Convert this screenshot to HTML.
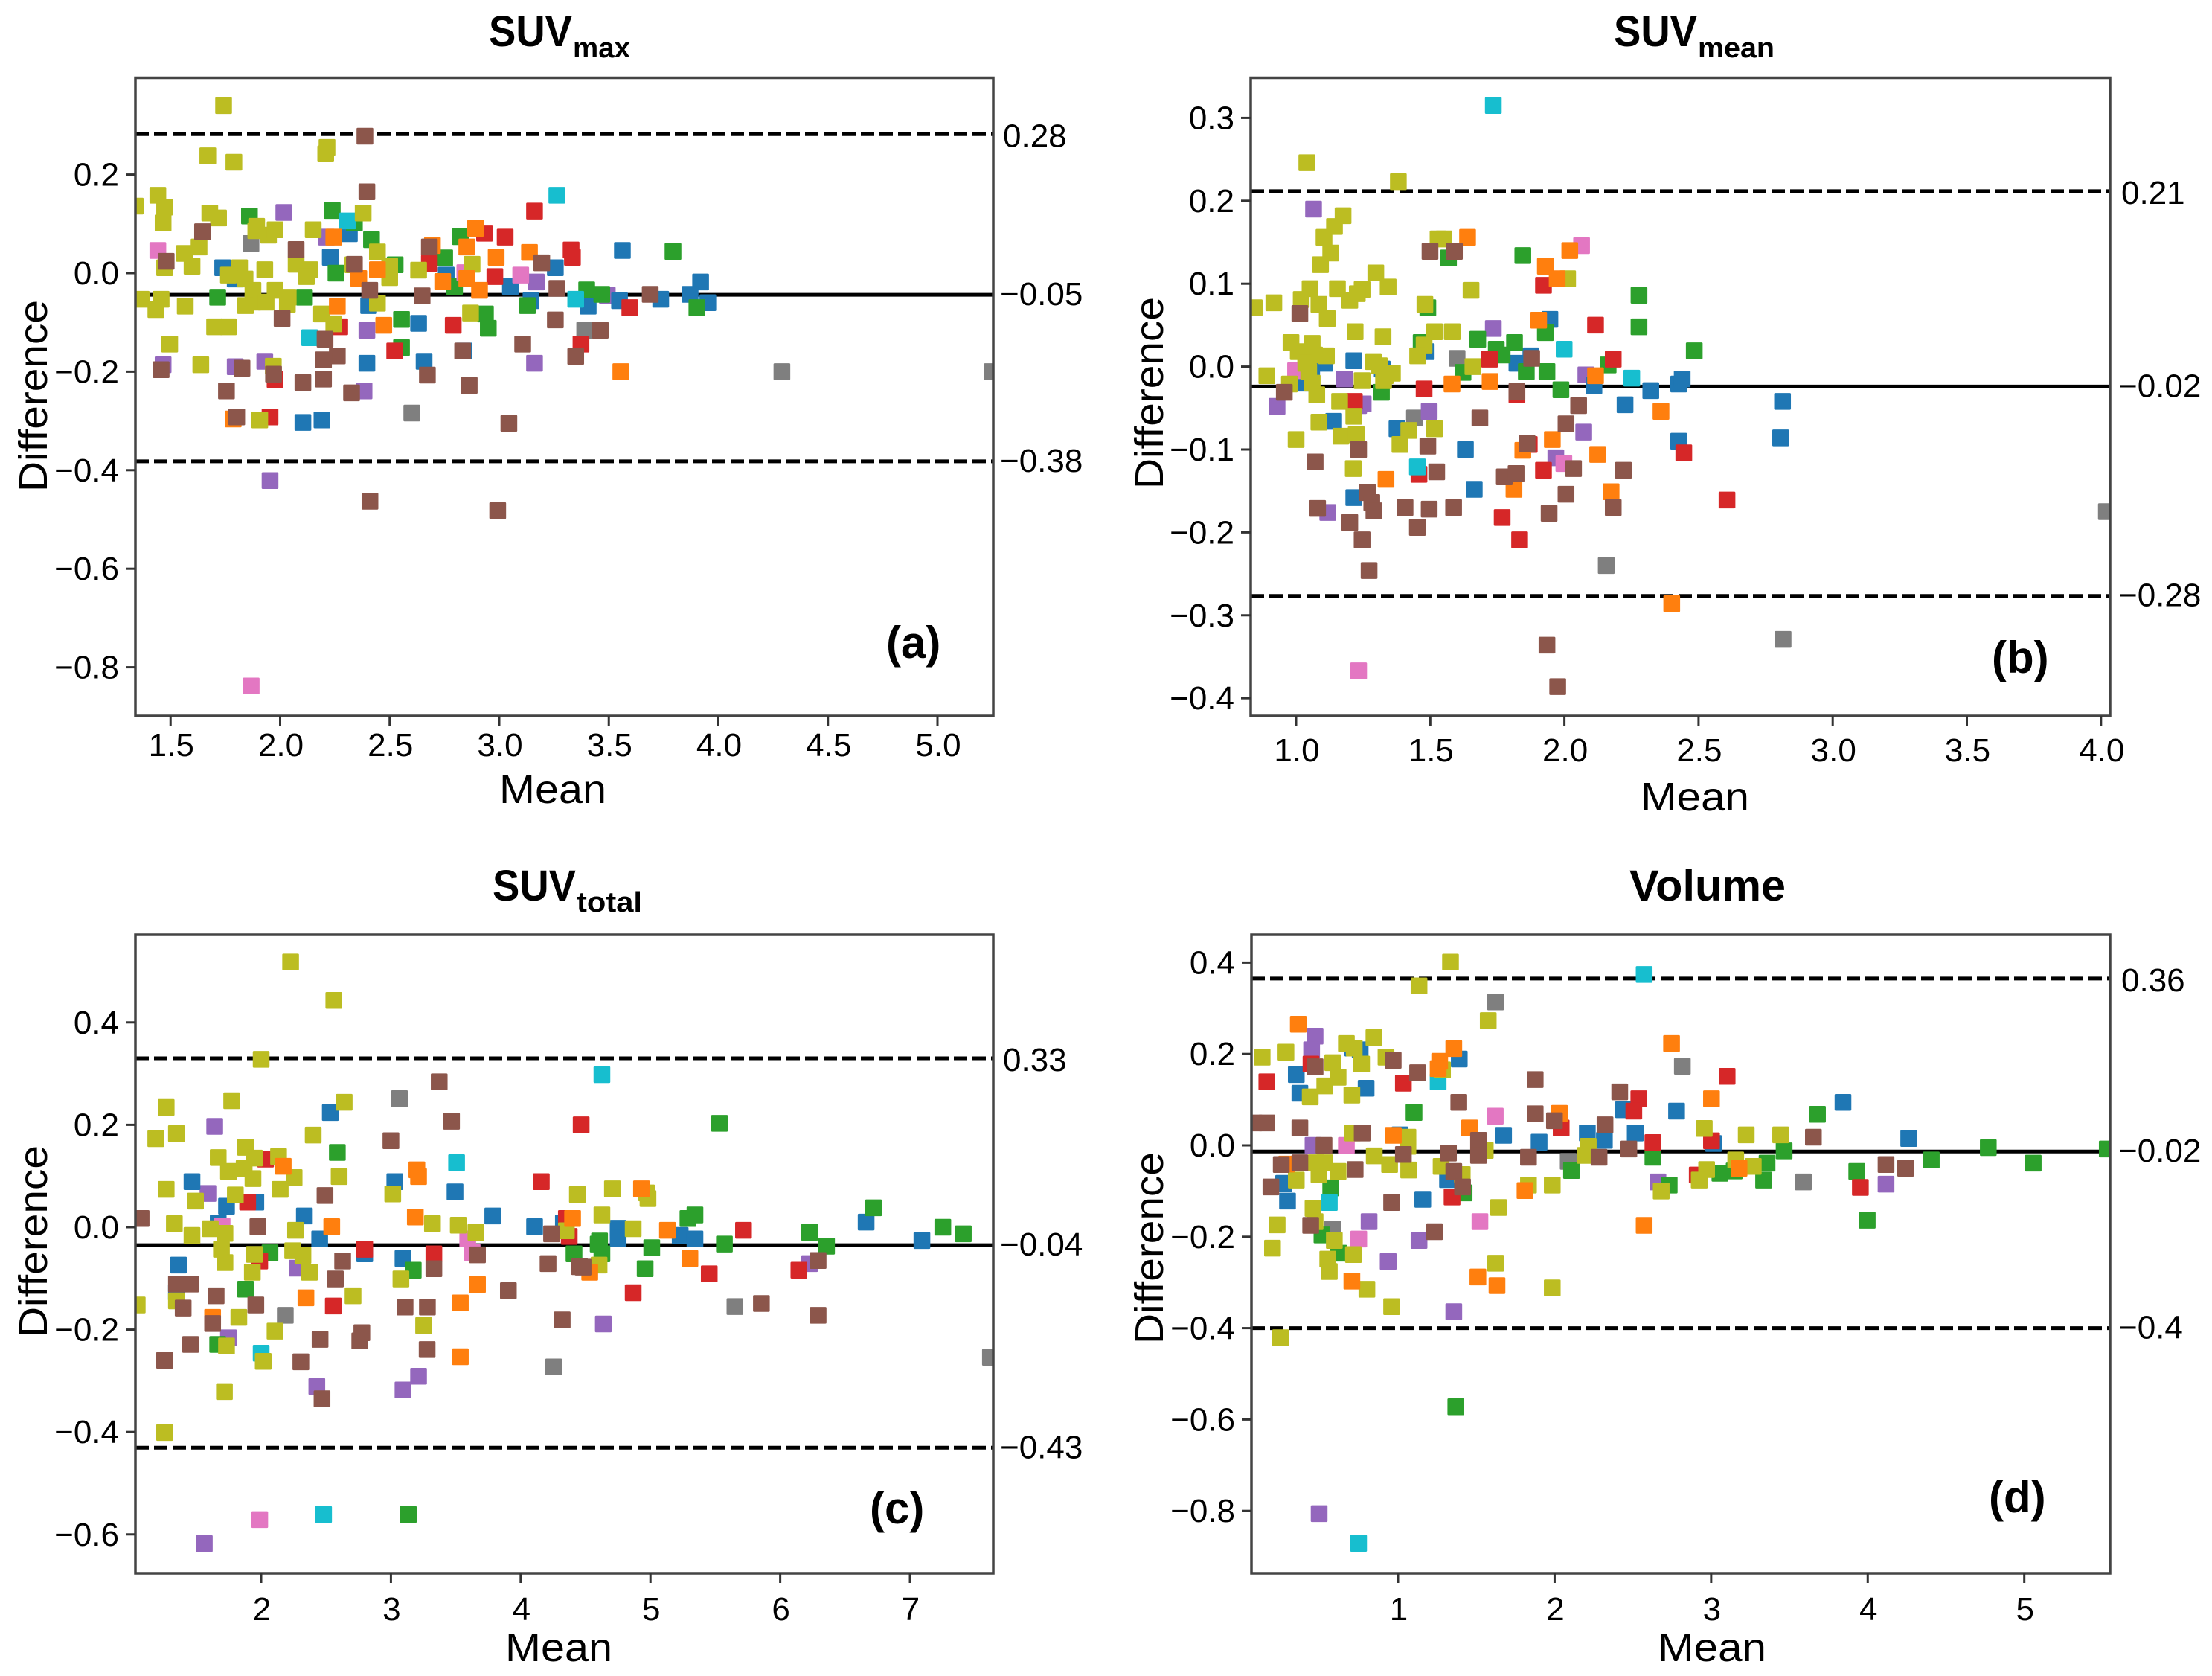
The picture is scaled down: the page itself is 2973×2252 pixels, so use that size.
<!DOCTYPE html>
<html lang="en">
<head>
<meta charset="utf-8">
<title>Bland-Altman plots: SUVmax, SUVmean, SUVtotal and Volume</title>
<style>
html,body{margin:0;padding:0;background:#fff;}
svg{display:block;}
text{font-family:"Liberation Sans",sans-serif;fill:#000;}
.tick{font-size:44px;}
.ttl{font-weight:bold;}
</style>
</head>
<body>
<svg id="chart" xmlns="http://www.w3.org/2000/svg" width="2973" height="2252" viewBox="0 0 2973 2252">
  <rect x="0" y="0" width="2973" height="2252" fill="#fff"/>

  <text class="ttl" x="657" y="62" font-size="58" textLength="112" lengthAdjust="spacingAndGlyphs">SUV</text>
  <text class="ttl" x="770" y="77" font-size="38" textLength="77" lengthAdjust="spacingAndGlyphs">max</text>
  <text class="ttl" x="2169" y="62" font-size="58" textLength="112" lengthAdjust="spacingAndGlyphs">SUV</text>
  <text class="ttl" x="2282" y="77" font-size="38" textLength="103" lengthAdjust="spacingAndGlyphs">mean</text>
  <text class="ttl" x="662" y="1210" font-size="58" textLength="112" lengthAdjust="spacingAndGlyphs">SUV</text>
  <text class="ttl" x="775" y="1225" font-size="38" textLength="88" lengthAdjust="spacingAndGlyphs">total</text>
  <text class="ttl" x="2190" y="1210" font-size="58" textLength="210" lengthAdjust="spacingAndGlyphs">Volume</text>

  <text class="ttl" x="1191" y="884" font-size="60">(a)</text>
  <text class="ttl" x="2677" y="904" font-size="60">(b)</text>
  <text class="ttl" x="1169" y="2047" font-size="60">(c)</text>
  <text class="ttl" x="2673" y="2032" font-size="60">(d)</text>

  <text x="671" y="1079" font-size="54" text-anchor="start" textLength="144" lengthAdjust="spacingAndGlyphs">Mean</text>
  <text x="2205" y="1089" font-size="54" textLength="146" lengthAdjust="spacingAndGlyphs">Mean</text>
  <text x="679" y="2232" font-size="54" textLength="144" lengthAdjust="spacingAndGlyphs">Mean</text>
  <text x="2228" y="2232" font-size="54" textLength="146" lengthAdjust="spacingAndGlyphs">Mean</text>

  <text transform="translate(63,661) rotate(-90)" font-size="54" textLength="258" lengthAdjust="spacingAndGlyphs">Difference</text>
  <text transform="translate(1563,657) rotate(-90)" font-size="54" textLength="258" lengthAdjust="spacingAndGlyphs">Difference</text>
  <text transform="translate(63,1797) rotate(-90)" font-size="54" textLength="258" lengthAdjust="spacingAndGlyphs">Difference</text>
  <text transform="translate(1563,1806) rotate(-90)" font-size="54" textLength="258" lengthAdjust="spacingAndGlyphs">Difference</text>
</svg>

<script>
// ---------- Panel (a) SUVmax: [mean, difference] ----------
const aOlive=[[1.742,.340],[1.670,.238],[1.789,.225],[2.214,.255],[2.208,.242],[1.442,.158],[1.473,.134],[1.466,.102],[1.339,.136],[1.679,.122],[1.719,.112],[1.893,.095],[1.889,.086],[1.947,.077],[1.977,.088],[2.151,.088],[2.379,.122],[1.630,.053],[1.563,.040],[1.598,.014],[1.473,.011],[1.815,.011],[1.764,-.004],[1.840,-.012],[1.930,.007],[2.073,.018],[2.135,.007],[2.120,-.007],[2.444,.043],[2.500,.014],[2.500,-.009],[2.332,.017],[2.632,.006],[2.876,.018],[1.366,-.053],[1.457,-.053],[1.433,-.074],[1.567,-.067],[1.876,-.035],[1.977,-.035],[1.876,-.059],[1.842,-.066],[1.936,-.059],[2.037,-.049],[2.033,-.063],[2.444,-.061],[2.189,-.083],[2.245,-.103],[2.869,-.081],[1.701,-.109],[1.764,-.109],[1.496,-.144],[1.638,-.186],[1.969,-.189],[1.907,-.298]];
const aBrown=[[2.387,.278],[2.396,.165],[1.646,.084],[2.073,.048],[1.480,.024],[2.339,.018],[2.409,-.035],[2.648,-.046],[2.681,.053],[3.194,.021],[3.263,-.031],[2.009,-.092],[3.256,-.095],[2.205,-.134],[3.107,-.144],[3.349,-.169],[2.261,-.168],[2.198,-.176],[1.826,-.193],[1.457,-.196],[1.970,-.205],[2.833,-.158],[2.672,-.207],[2.198,-.215],[2.104,-.222],[2.863,-.228],[1.755,-.239],[2.326,-.243],[1.802,-.292],[3.044,-.305],[2.410,-.463],[2.993,-.482],[3.689,-.043],[3.461,-.116]];
const aGreen=[[1.860,.116],[2.238,.127],[2.339,.102],[2.417,.068],[2.823,.074],[2.525,.017],[2.255,0],[2.751,.031],[2.796,-.027],[1.715,-.049],[2.111,-.049],[2.554,-.094],[2.937,-.083],[2.950,-.112],[2.554,-.151],[3.129,-.066],[3.793,.044],[3.399,-.034],[3.468,-.043],[3.902,-.070]];
const aBlue=[[1.738,.011],[2.316,.080],[2.229,.032],[2.758,-.004],[3.051,-.027],[3.256,.011],[3.145,-.056],[2.404,-.066],[1.795,-.012],[2.632,-.102],[2.396,-.183],[2.657,-.179],[2.839,-.158],[2.104,-.303],[2.191,-.298],[3.562,.046],[3.919,-.018],[3.549,-.056],[3.737,-.053],[3.871,-.043],[3.952,-.060],[3.406,-.067]];
const aOrange=[[2.245,.073],[2.695,.056],[2.892,.091],[2.852,.053],[2.986,.032],[3.138,.042],[2.444,.007],[2.359,-.011],[2.742,-.017],[2.852,-.011],[2.910,-.035],[2.261,-.067],[2.473,-.106],[1.786,-.296],[3.555,-.200]];
const aRed=[[3.161,.126],[2.933,.081],[3.027,.073],[3.328,.047],[3.334,.032],[2.681,.020],[2.980,-.007],[2.790,-.106],[2.272,-.109],[2.523,-.158],[1.977,-.216],[1.954,-.292],[3.373,-.144],[3.596,-.070]];
const aPurple=[[2.017,.123],[2.212,.073],[3.169,-.018],[2.396,-.116],[1.466,-.186],[1.795,-.190],[1.930,-.179],[2.383,-.239],[3.161,-.183],[1.954,-.421],[3.493,-.045]];
const aPink=[[1.442,.046],[3.098,-.004],[2.843,.001],[1.868,-.838]];
const aGray=[[1.867,.060],[2.601,-.284],[3.390,-.116],[4.290,-.200],[5.250,-.200]];
const aCyan=[[2.308,.106],[3.263,.158],[2.135,-.131],[3.349,-.053]];

// ---------- Panel (b) SUVmean ----------
const bOlive=[[1.040,.246],[1.381,.223],[1.175,.182],[1.143,.169],[1.104,.156],[1.129,.137],[1.091,.123],[1.529,.154],[1.551,.154],[1.297,.113],[1.052,.094],[1.154,.094],[1.246,.093],[1.343,.096],[1.228,.088],[1.200,.080],[1.019,.081],[1.085,.075],[.917,.077],[.844,.071],[1.116,.058],[1.652,.092],[1.480,.075],[1.220,.042],[1.324,.036],[1.582,.042],[1.516,.042],[.981,.029],[1.060,.028],[1.477,.026],[1.453,.013],[1.008,.018],[1.036,.014],[1.069,.014],[1.113,.013],[1.036,.004],[1.047,-.006],[1.288,.006],[1.310,.001],[1.659,0],[.891,-.011],[1.332,-.011],[1.359,-.008],[1.326,-.017],[.975,-.021],[1.060,-.020],[1.246,-.017],[1.077,-.034],[1.162,-.042],[1.215,-.060],[1.085,-.067],[1.420,-.077],[1.516,-.075],[1.167,-.084],[1.224,-.082],[1.000,-.088],[1.387,-.094],[1.213,-.123],[2.012,.106]];
const bBrown=[[1.499,.139],[1.590,.139],[1.014,.064],[1.878,.010],[.956,-.031],[1.823,-.030],[2.053,-.047],[1.685,-.062],[2.006,-.069],[1.233,-.100],[1.491,-.096],[1.861,-.093],[1.071,-.115],[1.524,-.127],[1.776,-.133],[1.820,-.129],[2.034,-.123],[2.220,-.125],[1.266,-.152],[1.282,-.164],[1.080,-.171],[1.200,-.188],[1.290,-.174],[1.246,-.209],[1.272,-.246],[1.406,-.170],[1.496,-.172],[1.452,-.194],[1.587,-.170],[1.943,-.177],[2.182,-.170],[1.935,-.336],[1.975,-.386],[2.006,-.154]];
const bGreen=[[1.845,.134],[1.568,.131],[2.278,.086],[1.491,.071],[2.278,.048],[1.929,.041],[1.677,.033],[1.814,.029],[1.746,.021],[1.768,.014],[1.466,.029],[1.858,-.006],[1.935,-.006],[1.622,-.007],[2.163,.002],[1.987,-.028],[1.318,-.031],[2.484,.019]];
const bBlue=[[1.946,.057],[1.215,.007],[1.107,.004],[1.823,.004],[1.875,.013],[1.321,-.003],[1.485,.018],[1.058,-.003],[1.140,-.066],[1.376,-.075],[2.110,-.023],[2.322,-.029],[2.226,-.046],[2.426,-.021],[2.439,-.015],[2.426,-.090],[1.631,-.100],[1.664,-.148],[1.215,-.158],[1.019,-.020],[2.813,-.042],[2.806,-.086]];
const bOrange=[[1.639,.156],[2.020,.140],[1.929,.121],[1.973,.106],[1.904,.056],[2.116,-.011],[1.581,-.021],[1.723,-.018],[2.360,-.054],[1.955,-.088],[1.845,-.101],[2.124,-.106],[1.335,-.136],[1.812,-.148],[2.174,-.151],[2.400,-.286]];
const bRed=[[1.922,.098],[2.116,.050],[2.182,.009],[1.721,.009],[1.217,-.042],[1.477,-.027],[1.823,-.034],[1.869,-.094],[2.445,-.104],[1.922,-.125],[1.458,-.130],[1.768,-.182],[1.833,-.209],[2.606,-.161]];
const bPurple=[[1.065,.190],[1.735,.046],[1.180,-.015],[2.080,-.010],[.929,-.048],[1.250,-.045],[1.233,-.047],[1.496,-.054],[2.072,-.079],[1.968,-.110],[1.118,-.176]];
const bPink=[[2.064,.146],[.998,-.005],[1.998,-.117],[1.233,-.367]];
const bGray=[[1.600,.010],[1.441,-.062],[2.156,-.240],[2.815,-.329],[4.020,-.175]];
const bCyan=[[1.735,.315],[1.999,.021],[2.251,-.014],[1.452,-.121]];

// ---------- Panel (c) SUVtotal ----------
const cOlive=[[2.227,.518],[2.560,.443],[2.000,.328],[1.268,.234],[1.773,.247],[2.640,.244],[1.347,.183],[1.188,.173],[2.401,.180],[1.880,.156],[1.669,.136],[1.948,.135],[2.134,.138],[1.748,.109],[1.869,.115],[1.937,.095],[2.254,.097],[2.601,.099],[1.268,.074],[2.147,.074],[1.494,.051],[1.801,.063],[3.014,.065],[4.437,.064],[1.331,.007],[1.467,-.016],[1.608,-.003],[1.721,-.012],[3.320,.007],[3.519,.004],[3.655,-.010],[2.265,-.006],[4.352,-.007],[1.694,-.043],[1.721,-.069],[1.948,-.053],[2.243,-.046],[2.322,-.055],[1.932,-.088],[2.372,-.088],[3.077,-.101],[2.708,-.134],[1.347,-.144],[1.045,-.152],[1.828,-.176],[2.107,-.203],[3.252,-.192],[1.733,-.232],[2.016,-.262],[1.717,-.321],[1.256,-.401],[4.707,.075],[4.981,.056],[4.970,.067],[4.626,.024],[4.867,-.003],[4.604,-.074]];
const cBrown=[[1.075,.017],[3.372,.284],[3.467,.207],[3.000,.169],[2.492,.062],[1.975,.001],[4.238,-.013],[3.331,-.081],[2.628,-.066],[2.572,-.101],[3.667,-.054],[4.211,-.071],[4.454,-.077],[1.347,-.111],[1.456,-.111],[1.653,-.134],[1.959,-.152],[1.399,-.158],[3.109,-.156],[3.281,-.156],[3.905,-.124],[1.626,-.188],[4.320,-.181],[2.776,-.206],[2.760,-.222],[2.454,-.219],[1.456,-.229],[3.279,-.239],[1.256,-.260],[2.306,-.263],[2.469,-.335],[4.481,-.078],[5.855,-.149],[6.292,-.172],[6.292,-.065]];
const cGreen=[[2.587,.146],[2.068,-.050],[3.172,-.084],[1.880,-.121],[1.665,-.229],[3.134,-.561],[5.532,.203],[5.343,.024],[5.289,.017],[6.719,.038],[7.253,0],[7.411,-.013],[6.226,-.010],[6.357,-.037],[5.570,-.033],[4.608,-.027],[4.597,-.033],[4.626,-.052],[5.010,-.040],[4.411,-.052],[4.959,-.081]];
const cBlue=[[1.467,.089],[2.533,.224],[3.030,.089],[3.494,.069],[1.959,.049],[1.733,.041],[2.333,.022],[1.669,.008],[3.785,.022],[4.107,.001],[2.451,-.023],[4.329,.008],[1.363,-.074],[3.093,-.061],[2.798,-.052],[1.347,-.127],[6.662,.010],[7.092,-.026],[4.751,-.002],[4.751,-.022],[5.229,-.016],[5.343,-.023]];
const cOrange=[[2.170,.119],[3.200,.112],[3.213,.099],[3.188,.020],[2.544,.001],[4.400,.017],[3.667,-.112],[3.535,-.148],[2.345,-.138],[1.626,-.176],[3.535,-.253],[4.931,.075],[5.131,-.006],[4.532,-.088],[5.304,-.061]];
const cRed=[[4.466,.200],[4.159,.089],[2.034,.133],[1.896,.049],[2.798,-.043],[3.331,-.052],[1.989,-.066],[2.556,-.154],[4.352,.017],[4.374,-.018],[5.717,-.006],[5.453,-.091],[4.867,-.128],[6.144,-.084]];
const cPurple=[[1.642,.197],[1.590,.066],[2.277,-.080],[1.748,-.216],[3.213,-.291],[2.429,-.311],[3.093,-.318],[1.562,-.618],[4.637,-.189],[6.226,-.071]];
const cPink=[[1.699,.002],[3.592,-.023],[3.626,-.049],[1.989,-.571]];
const cGray=[[3.066,.251],[2.186,-.172],[4.254,-.273],[5.651,-.155],[7.620,-.254]];
const cCyan=[[3.506,.126],[2.000,-.246],[2.481,-.561],[4.626,.298]];

// ---------- Panel (d) Volume ----------
const dOlive=[[1.335,.401],[1.134,.349],[1.576,.273],[.132,.193],[.284,.204],[.670,.223],[.720,.213],[.846,.236],[.923,.193],[.767,.178],[.583,.181],[.617,.149],[.532,.130],[.439,.106],[.705,.110],[1.284,.165],[.711,.027],[1.063,.018],[1.063,-.002],[.848,-.023],[.946,-.042],[1.068,-.054],[2.215,-.002],[2.196,-.022],[1.557,-.011],[1.275,-.046],[1.410,-.064],[.476,-.038],[.532,-.038],[.495,-.064],[.617,-.057],[.350,-.076],[.457,-.138],[.470,-.167],[.228,-.174],[.198,-.225],[.593,-.208],[.715,-.239],[.551,-.249],[.561,-.276],[.801,-.315],[.959,-.353],[.250,-.421],[1.833,-.087],[1.985,-.087],[1.642,-.136],[1.623,-.258],[1.985,-.312],[2.681,-.100],[2.956,.037],[3.224,.023],[3.444,.023],[3.157,-.032],[3.269,-.046],[2.971,-.053],[2.924,-.076]];
const dBrown=[[.081,.049],[.162,.049],[.470,.172],[.969,.186],[1.125,.159],[1.876,.144],[1.388,.094],[1.876,.069],[1.999,.054],[2.416,.117],[2.322,.045],[.373,.038],[.771,.027],[.527,0],[1.034,-.020],[1.322,-.017],[1.514,.011],[1.514,-.022],[1.833,-.026],[2.284,-.026],[2.474,-.008],[.254,-.042],[.373,-.038],[.726,-.053],[.188,-.091],[1.356,-.057],[1.412,-.091],[.959,-.125],[.442,-.175],[1.233,-.189],[3.653,.018],[4.117,-.042],[4.242,-.050]];
const dGreen=[[1.102,.072],[2.628,-.026],[.570,-.093],[1.422,-.104],[2.108,-.055],[2.732,-.087],[.514,-.196],[.621,-.236],[1.369,-.572],[3.679,.068],[3.466,-.012],[3.357,-.039],[3.147,-.056],[3.056,-.061],[3.335,-.076],[3.930,-.057],[3.997,-.164],[4.406,-.032],[4.770,-.005],[5.057,-.039],[5.530,-.008]];
const dBlue=[[.350,.155],[.373,.114],[.711,.213],[.758,.209],[.796,.125],[1.391,.189],[2.440,.078],[2.779,.075],[2.209,.027],[2.318,.011],[2.515,.027],[1.674,.022],[1.901,.007],[1.012,.023],[.269,-.083],[.294,-.122],[1.158,-.118],[1.316,-.075],[3.015,.004],[3.842,.094],[4.262,.015]];
const dOrange=[[.363,.265],[1.356,.212],[1.266,.184],[1.256,.168],[2.747,.223],[2.031,.070],[1.457,.038],[.970,.022],[.288,-.041],[1.811,-.099],[2.572,-.175],[.705,-.297],[1.510,-.288],[1.632,-.307],[3.002,.102],[3.178,-.050]];
const dRed=[[.162,.139],[.444,.178],[1.034,.136],[2.538,.102],[2.506,.075],[2.042,.038],[2.628,.006],[1.345,-.113],[3.102,.151],[3.002,.010],[2.911,-.065],[3.953,-.092]];
const dPurple=[[.470,.239],[.448,.209],[.457,0],[2.660,-.080],[.815,-.167],[1.134,-.208],[.937,-.254],[1.356,-.364],[.496,-.806],[4.117,-.085]];
const dPink=[[.670,0],[1.621,.064],[.749,-.205],[1.523,-.167]];
const dGray=[[1.623,.314],[2.816,.173],[2.087,-.035],[.583,-.183],[3.589,-.080]];
const dCyan=[[2.572,.374],[1.256,.139],[.561,-.125],[.748,-.871]];

// ---------- Limits of agreement and tick labels ----------
const aLines=[0.282,-0.044,-0.382];
const bLines=[0.2116,-0.024,-0.2766];
const cLines=[0.33,-0.035,-0.4307];
const dLines=[0.365,-0.0134,-0.4];
const aLineLabels=['0.28','\u22120.05','\u22120.38'];
const bLineLabels=['0.21','\u22120.02','\u22120.28'];
const cLineLabels=['0.33','\u22120.04','\u22120.43'];
const dLineLabels=['0.36','\u22120.02','\u22120.4'];
const aXTicks=[1.5,2,2.5,3,3.5,4,4.5,5];
const bXTicks=[1,1.5,2,2.5,3,3.5,4];
const cXTicks=[2,3,4,5,6,7];
const dXTicks=[1,2,3,4,5];
const aYTicks=[0.2,0,-0.2,-0.4,-0.6,-0.8];
const bYTicks=[0.3,0.2,0.1,0,-0.1,-0.2,-0.3,-0.4];
const cYTicks=[0.4,0.2,0,-0.2,-0.4,-0.6];
const dYTicks=[0.4,0.2,0,-0.2,-0.4,-0.6,-0.8];

const NS='http://www.w3.org/2000/svg';
const svg=document.getElementById('chart');
const palette={blue:'#1f77b4',orange:'#ff7f0e',green:'#2ca02c',red:'#d62728',purple:'#9467bd',brown:'#8c564b',pink:'#e377c2',gray:'#7f7f7f',olive:'#bcbd22',cyan:'#17becf'};
const MARK=22.5;

function make(tag,attrs,parent){
  const el=document.createElementNS(NS,tag);
  for(const k in attrs){el.setAttribute(k,attrs[k]);}
  parent.appendChild(el);
  return el;
}

function drawPanel(p){
  const sx=v=>p.left+(v-p.xMin)/(p.xMax-p.xMin)*(p.right-p.left);
  const sy=v=>p.top+(p.yMax-v)/(p.yMax-p.yMin)*(p.bottom-p.top);
  const g=make('g',{},svg);
  
  

  const clip=make('clipPath',{id:'clip-'+p.id},g);
  make('rect',{x:p.left,y:p.top,width:p.right-p.left,height:p.bottom-p.top},clip);

  const marks=make('g',{'clip-path':'url(#clip-'+p.id+')'},g);
  
  

  const dashed=[true,false,true];
  p.lines.forEach((v,i)=>{
    const attrs={x1:p.left,x2:p.right,y1:sy(v),y2:sy(v),stroke:'#000','stroke-width':5};
    if(dashed[i]){attrs['stroke-dasharray']='18 7';}
    const ln=make('line',attrs,marks);
    
    
  });

  p.layers.forEach(layer=>{
    layer.pts.forEach(pt=>{
      const r=make('rect',{x:sx(pt[0])-MARK/2,y:sy(pt[1])-MARK/2,width:MARK,height:MARK,rx:1.5,fill:palette[layer.color]},marks);
      
      
    });
  });

  const frame=make('rect',{x:p.left,y:p.top,width:p.right-p.left,height:p.bottom-p.top,fill:'none',stroke:'#444','stroke-width':3.5},g);
  
  

  p.xTicks.forEach(v=>{
    const x=sx(v);
    const t=make('line',{x1:x,x2:x,y1:p.bottom,y2:p.bottom+13,stroke:'#333','stroke-width':3},g);
    
    
    const lab=make('text',{x:x+1,y:p.xLabelY,'text-anchor':'middle',class:'tick'},g);
    lab.textContent=v.toFixed(p.xDigits);
    
    
  });

  p.yTicks.forEach(v=>{
    const y=sy(v);
    const t=make('line',{x1:p.left-13,x2:p.left,y1:y,y2:y,stroke:'#333','stroke-width':3},g);
    
    
    const lab=make('text',{x:p.left-22,y:y+15,'text-anchor':'end',class:'tick'},g);
    lab.textContent=(v<0?'\u2212':'')+Math.abs(v).toFixed(1);
    
    
  });

  p.lineLabels.forEach((s,i)=>{
    const neg=s.charAt(0)==='\u2212';
    const lab=make('text',{x:p.right+(neg?p.labelGap-4:p.labelGap),y:sy(p.lines[i])+14+(i===0?3:0),class:'tick'},g);
    lab.textContent=s;
    
    
  });
}

function layersOf(o){
  const order=['gray','purple','blue','green','red','cyan','pink','olive','orange','brown'];
  return order.map(c=>({color:c,pts:o[c]}));
}

drawPanel({id:'a',left:182,right:1335,top:104.5,bottom:962,xMin:1.3396,xMax:5.2547,yMin:-.8988,yMax:.3965,xTicks:aXTicks,yTicks:aYTicks,xDigits:1,xLabelY:1016,lines:aLines,lineLabels:aLineLabels,labelGap:13,
  layers:layersOf({gray:aGray,purple:aPurple,blue:aBlue,green:aGreen,red:aRed,cyan:aCyan,pink:aPink,olive:aOlive,orange:aOrange,brown:aBrown})});
drawPanel({id:'b',left:1681,right:2836,top:104.5,bottom:962,xMin:.8308,xMax:4.0338,yMin:-.4214,yMax:.3484,xTicks:bXTicks,yTicks:bYTicks,xDigits:1,xLabelY:1023,lines:bLines,lineLabels:bLineLabels,labelGap:15,
  layers:layersOf({gray:bGray,purple:bPurple,blue:bBlue,green:bGreen,red:bRed,cyan:bCyan,pink:bPink,olive:bOlive,orange:bOrange,brown:bBrown})});
drawPanel({id:'c',left:182,right:1335,top:1256,bottom:2114,xMin:1.031,xMax:7.642,yMin:-.6759,yMax:.5712,xTicks:cXTicks,yTicks:cYTicks,xDigits:0,xLabelY:2177,lines:cLines,lineLabels:cLineLabels,labelGap:13,
  layers:layersOf({gray:cGray,purple:cPurple,blue:cBlue,green:cGreen,red:cRed,cyan:cCyan,pink:cPink,olive:cOlive,orange:cOrange,brown:cBrown})});
drawPanel({id:'d',left:1682,right:2836,top:1256,bottom:2114,xMin:.0637,xMax:5.548,yMin:-.9365,yMax:.4609,xTicks:dXTicks,yTicks:dYTicks,xDigits:0,xLabelY:2177,lines:dLines,lineLabels:dLineLabels,labelGap:15,
  layers:layersOf({gray:dGray,purple:dPurple,blue:dBlue,green:dGreen,red:dRed,cyan:dCyan,pink:dPink,olive:dOlive,orange:dOrange,brown:dBrown})});
</script>
</body>
</html>
